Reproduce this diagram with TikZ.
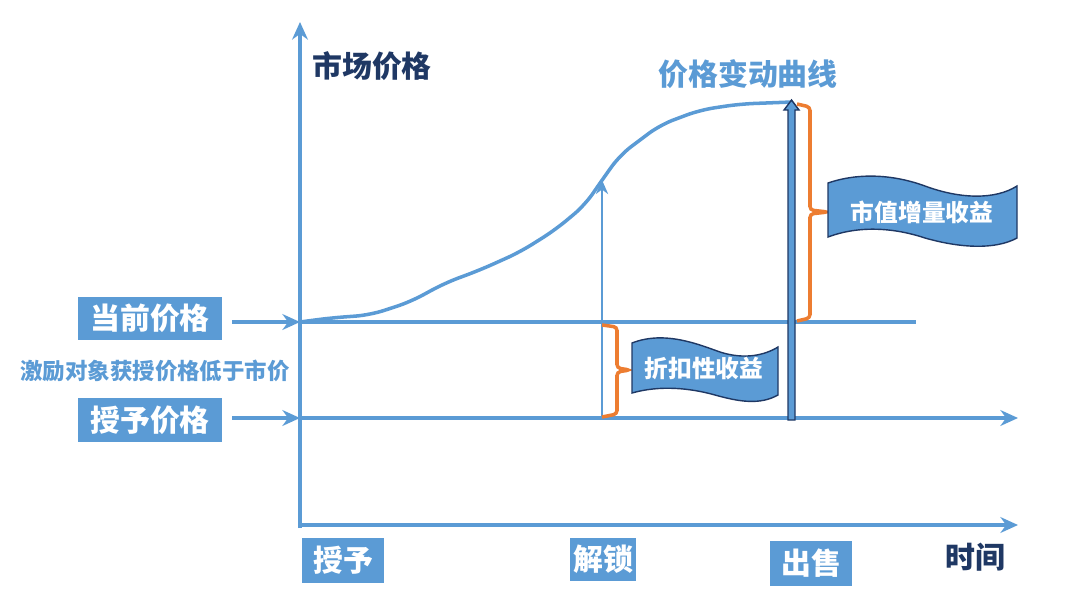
\documentclass[tikz,border=0pt]{standalone}
\usepackage{fontspec}
\setmainfont{Noto Sans CJK SC}
\usetikzlibrary{arrows.meta, positioning}

\definecolor{lineblue}{RGB}{91,155,213}
\definecolor{navy}{RGB}{31,56,100}
\definecolor{bracketorange}{RGB}{237,125,49}

\begin{document}
\begin{tikzpicture}[x=0.02cm, y=-0.02cm]
	\tikzset{
		axis/.style={lineblue, line width=2pt, -{Stealth[length=10pt, width=9pt]}},
		level/.style={lineblue, line width=2pt},
		tag/.style={fill=lineblue, text=white, font=\bfseries\fontsize{17}{19}\selectfont, inner sep=0pt},
		title/.style={font=\bfseries\fontsize{17}{19}\selectfont},
		brace/.style={bracketorange, line width=2pt, rounded corners=2pt},
		flag/.style={fill=lineblue, draw=navy, line width=0.8pt},
		flagtext/.style={text=white, font=\bfseries\fontsize{13.5}{15}\selectfont},
	}
	\useasboundingbox (0,0) rectangle (1080,603);

	% axes
	\coordinate (origin) at (300,528);
	\coordinate (ytop) at (300,22);
	\coordinate (xend) at (1018,525);
	\draw[axis] (origin) -- (ytop);
	\draw[axis] (origin) ++(0,-3) -- (xend);
	\node[title, text=navy] (ylabel) at (372,66) {市场价格};
	\node[title, text=navy] (xlabel) at (975,557) {时间};

	% price levels
	\coordinate (cur0) at (300,322);
	\coordinate (cur1) at (916,322);
	\coordinate (grant0) at (300,418);
	\coordinate (grant1) at (1018,418);
	\draw[level] (cur0) -- (cur1);
	\draw[axis] (grant0) -- (grant1);

	\node[tag, minimum width=2.88cm, minimum height=0.86cm] (curtag) at (150,318) {当前价格};
	\node[tag, minimum width=2.88cm, minimum height=0.88cm] (granttag) at (150,420) {授予价格};
	\node[text=lineblue, font=\bfseries\fontsize{12.8}{14}\selectfont] (gap) at (155,371) {激励对象获授价格低于市价};
	\draw[axis] (232,322) -- (cur0);
	\draw[axis] (232,418) -- (grant0);

	% bottom tags
	\node[tag, minimum width=1.66cm, minimum height=0.9cm] (granted) at (343,560) {授予};
	\node[tag, minimum width=1.32cm, minimum height=0.86cm] (unlock) at (603,559) {解锁};
	\node[tag, minimum width=1.64cm, minimum height=0.9cm] (sell) at (811,563) {出售};

	% price curve
	\node[title, text=lineblue] (curvelabel) at (748,74) {价格变动曲线};
	\draw[lineblue, line width=2pt, rounded corners=8pt] (cur0) -- (330,318) -- (370,315) -- (410,302) -- (445,283) -- (480,270) -- (520,252)
		-- (555,230) -- (585,205) -- (600,183) -- (620,155) -- (660,125) -- (700,110) -- (740,104) -- (792,102);

	% unlock arrow and sell bar
	\coordinate (unlocktop) at (602,180);
	\draw[lineblue, line width=1.2pt, -{Stealth[length=8pt, width=7pt]}] (602,418) -- (unlocktop);
	\draw[navy, fill=lineblue, line width=0.8pt] (788,420) -- (788,110) -- (784,110) -- (791.5,100) -- (799,110) -- (795,110) -- (795,420) -- cycle;

	% braces
	\draw[brace] (602,325) -- (617,327) -- (617,368) -- (630,370) -- (617,372) -- (617,414) -- (602,417);
	\draw[brace] (797,104) -- (810,107) -- (810,210) -- (828,212) -- (810,214) -- (810,318) -- (797,321);

	% flags
	\draw[flag] (632,343) .. controls (665,330) and (700,345) .. (720,352) .. controls (745,360) and (765,355) .. (778,347)
		-- (778,395) .. controls (760,405) and (740,402) .. (715,395) .. controls (690,388) and (660,385) .. (632,393) -- cycle;
	\node[flagtext] (discount) at (704,369) {折扣性收益};
	\draw[flag] (828,183) .. controls (860,172) and (895,175) .. (925,186) .. controls (960,199) and (995,200) .. (1017,186)
		-- (1017,238) .. controls (995,250) and (960,248) .. (925,238) .. controls (895,228) and (860,225) .. (828,237) -- cycle;
	\node[flagtext] (gain) at (922,212) {市值增量收益};
\end{tikzpicture}
\end{document}
